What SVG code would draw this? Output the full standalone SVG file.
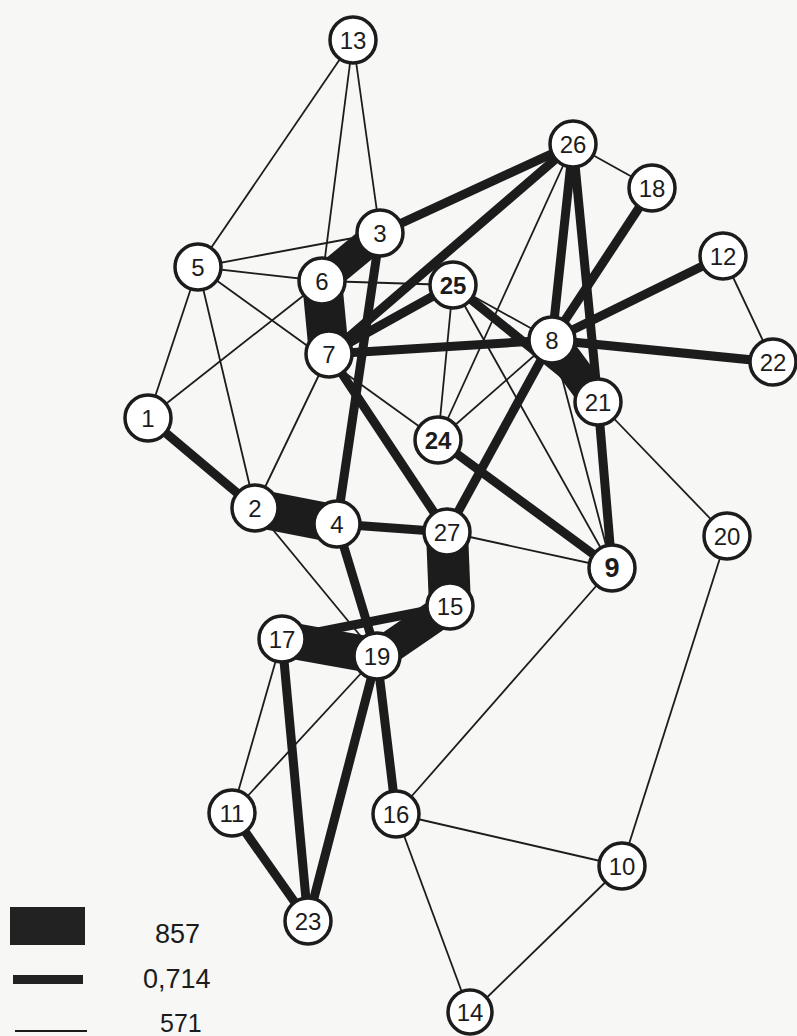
<svg xmlns="http://www.w3.org/2000/svg" width="797" height="1036" viewBox="0 0 797 1036">
<style>
  .e { stroke: #1c1c1c; fill: none; stroke-linecap: butt; }
  .thin { stroke-width: 1.8; }
  .med { stroke-width: 9; }
  .thick { stroke-width: 36; }
  .node circle { fill: #ffffff; stroke: #1c1c1c; stroke-width: 3.5; }
  .node text { font-family: "Liberation Sans", "DejaVu Sans", sans-serif; font-size: 24px; fill: #1c1c1c; text-anchor: middle; dominant-baseline: central; }
  .node text.b { font-weight: bold; }
  .leg { font-family: "Liberation Sans", "DejaVu Sans", sans-serif; font-size: 27px; fill: #1c1c1c; }
</style>
<rect x="0" y="0" width="797" height="1036" fill="#f7f7f5"/>
<g id="connectors">
  <!-- thin -->
  <line class="e thin" x1="353" y1="40" x2="198" y2="267"/>
  <line class="e thin" x1="353" y1="40" x2="322" y2="281"/>
  <line class="e thin" x1="353" y1="40" x2="380" y2="233"/>
  <line class="e thin" x1="198" y1="267" x2="380" y2="233"/>
  <line class="e thin" x1="198" y1="267" x2="322" y2="281"/>
  <line class="e thin" x1="198" y1="267" x2="148" y2="418"/>
  <line class="e thin" x1="198" y1="267" x2="255" y2="508"/>
  <line class="e thin" x1="198" y1="267" x2="438" y2="440"/>
  <line class="e thin" x1="148" y1="418" x2="322" y2="281"/>
  <line class="e thin" x1="255" y1="508" x2="329" y2="354"/>
  <line class="e thin" x1="255" y1="508" x2="377" y2="656"/>
  <line class="e thin" x1="322" y1="281" x2="453" y2="285"/>
  <line class="e thin" x1="453" y1="285" x2="438" y2="440"/>
  <line class="e thin" x1="453" y1="285" x2="552" y2="340"/>
  <line class="e thin" x1="453" y1="285" x2="612" y2="568"/>
  <line class="e thin" x1="573" y1="144" x2="652" y2="188"/>
  <line class="e thin" x1="573" y1="144" x2="438" y2="440"/>
  <line class="e thin" x1="723" y1="256" x2="773" y2="362"/>
  <line class="e thin" x1="552" y1="340" x2="438" y2="440"/>
  <line class="e thin" x1="552" y1="340" x2="612" y2="568"/>
  <line class="e thin" x1="598" y1="402" x2="727" y2="536"/>
  <line class="e thin" x1="447" y1="532" x2="612" y2="568"/>
  <line class="e thin" x1="282" y1="639" x2="232" y2="813"/>
  <line class="e thin" x1="377" y1="656" x2="232" y2="813"/>
  <line class="e thin" x1="612" y1="568" x2="396" y2="814"/>
  <line class="e thin" x1="396" y1="814" x2="622" y2="866"/>
  <line class="e thin" x1="396" y1="814" x2="470" y2="1014"/>
  <line class="e thin" x1="622" y1="866" x2="470" y2="1014"/>
  <line class="e thin" x1="727" y1="536" x2="622" y2="866"/>
  <!-- medium -->
  <line class="e med" x1="148" y1="418" x2="255" y2="508"/>
  <line class="e med" x1="380" y1="233" x2="337" y2="524"/>
  <line class="e med" x1="380" y1="233" x2="573" y2="144"/>
  <line class="e med" x1="329" y1="354" x2="573" y2="144"/>
  <line class="e med" x1="329" y1="354" x2="453" y2="285"/>
  <line class="e med" x1="329" y1="354" x2="552" y2="340"/>
  <line class="e med" x1="329" y1="354" x2="447" y2="532"/>
  <line class="e med" x1="453" y1="285" x2="598" y2="402"/>
  <line class="e med" x1="573" y1="144" x2="552" y2="340"/>
  <line class="e med" x1="573" y1="144" x2="598" y2="402"/>
  <line class="e med" x1="652" y1="188" x2="552" y2="340"/>
  <line class="e med" x1="723" y1="256" x2="552" y2="340"/>
  <line class="e med" x1="552" y1="340" x2="773" y2="362"/>
  <line class="e med" x1="552" y1="340" x2="447" y2="532"/>
  <line class="e med" x1="598" y1="402" x2="612" y2="568"/>
  <line class="e med" x1="438" y1="440" x2="612" y2="568"/>
  <line class="e med" x1="337" y1="524" x2="447" y2="532"/>
  <line class="e med" x1="337" y1="524" x2="377" y2="656"/>
  <line class="e med" x1="282" y1="639" x2="450" y2="606"/>
  <line class="e med" x1="282" y1="639" x2="308" y2="921"/>
  <line class="e med" x1="377" y1="656" x2="308" y2="921"/>
  <line class="e med" x1="377" y1="656" x2="396" y2="814"/>
  <line class="e med" x1="232" y1="813" x2="308" y2="921"/>
  <!-- thick -->
  <line class="e thick" x1="380" y1="233" x2="322" y2="281" style="stroke-width:30"/>
  <line class="e thick" x1="322" y1="281" x2="329" y2="354" style="stroke-width:40"/>
  <line class="e thick" x1="255" y1="508" x2="337" y2="524" style="stroke-width:38"/>
  <line class="e thick" x1="552" y1="340" x2="598" y2="402" style="stroke-width:32"/>
  <line class="e thick" x1="447" y1="532" x2="450" y2="606" style="stroke-width:42"/>
  <line class="e thick" x1="282" y1="639" x2="377" y2="656" style="stroke-width:36"/>
  <line class="e thick" x1="377" y1="656" x2="450" y2="606" style="stroke-width:32"/>
</g>
<g id="n13" class="node"><circle cx="353" cy="40" r="23"/><text x="353" y="40">13</text></g>
<g id="n26" class="node"><circle cx="573" cy="144" r="23"/><text x="573" y="144">26</text></g>
<g id="n18" class="node"><circle cx="652" cy="188" r="23"/><text x="652" y="188">18</text></g>
<g id="n3" class="node"><circle cx="380" cy="233" r="23"/><text x="380" y="233">3</text></g>
<g id="n5" class="node"><circle cx="198" cy="267" r="23"/><text x="198" y="267">5</text></g>
<g id="n6" class="node"><circle cx="322" cy="281" r="23"/><text x="322" y="281">6</text></g>
<g id="n25" class="node"><circle cx="453" cy="285" r="23"/><text class="b" x="453" y="285">25</text></g>
<g id="n12" class="node"><circle cx="723" cy="256" r="23"/><text x="723" y="256">12</text></g>
<g id="n8" class="node"><circle cx="552" cy="340" r="23"/><text x="552" y="340">8</text></g>
<g id="n7" class="node"><circle cx="329" cy="354" r="23"/><text x="329" y="354">7</text></g>
<g id="n22" class="node"><circle cx="773" cy="362" r="23"/><text x="773" y="362">22</text></g>
<g id="n21" class="node"><circle cx="598" cy="402" r="23"/><text x="598" y="402">21</text></g>
<g id="n1" class="node"><circle cx="148" cy="418" r="23"/><text x="148" y="418">1</text></g>
<g id="n24" class="node"><circle cx="438" cy="440" r="23"/><text class="b" x="438" y="440">24</text></g>
<g id="n2" class="node"><circle cx="255" cy="508" r="23"/><text x="255" y="508">2</text></g>
<g id="n4" class="node"><circle cx="337" cy="524" r="23"/><text x="337" y="524">4</text></g>
<g id="n27" class="node"><circle cx="447" cy="532" r="23"/><text x="447" y="532">27</text></g>
<g id="n20" class="node"><circle cx="727" cy="536" r="23"/><text x="727" y="536">20</text></g>
<g id="n9" class="node"><circle cx="612" cy="568" r="23"/><text class="b" x="612" y="568" style="font-size:27px">9</text></g>
<g id="n15" class="node"><circle cx="450" cy="606" r="23"/><text x="450" y="606">15</text></g>
<g id="n17" class="node"><circle cx="282" cy="639" r="23"/><text x="282" y="639">17</text></g>
<g id="n19" class="node"><circle cx="377" cy="656" r="23"/><text x="377" y="656">19</text></g>
<g id="n11" class="node"><circle cx="232" cy="813" r="23"/><text x="232" y="813">11</text></g>
<g id="n16" class="node"><circle cx="396" cy="814" r="23"/><text x="396" y="814">16</text></g>
<g id="n10" class="node"><circle cx="622" cy="866" r="23"/><text x="622" y="866">10</text></g>
<g id="n23" class="node"><circle cx="308" cy="921" r="23"/><text x="308" y="921">23</text></g>
<g id="n14" class="node"><circle cx="470" cy="1012" r="22"/><text x="470" y="1012">14</text></g>
<g id="legend">
  <rect x="10" y="907" width="75" height="38" fill="#222222"/>
  <rect x="13" y="975" width="70" height="9" fill="#222222"/>
  <line x1="15" y1="1031" x2="87" y2="1031" stroke="#1c1c1c" stroke-width="2"/>
  <text class="leg" x="155" y="943">857</text>
  <text class="leg" x="143" y="988">0,714</text>
  <text class="leg" x="160" y="1032" style="font-size:25px">571</text>
</g>
</svg>
